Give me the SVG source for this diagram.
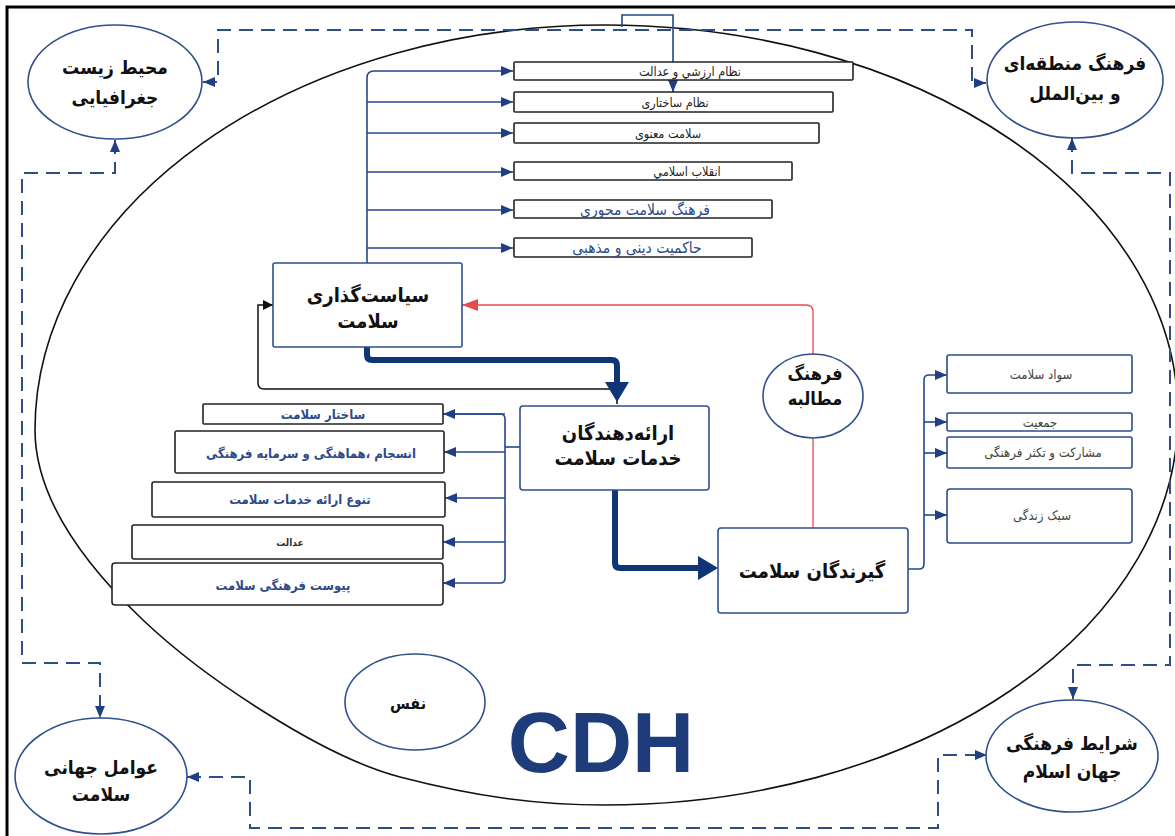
<svg xmlns="http://www.w3.org/2000/svg" width="1175" height="836" viewBox="0 0 1175 836">
<defs>
<style>
.bx{fill:#fff;stroke:#222;stroke-width:1.6}
.nb{fill:#fff;stroke:#2f4f8f;stroke-width:1.6}
.rb{fill:#fff;stroke:#2c4c8c;stroke-width:1.6}
.el{fill:#fff;stroke:#2f4f8f;stroke-width:1.6}
.cn{fill:none;stroke:#24478f;stroke-width:1.6}
.ds{fill:none;stroke:#2e4f86;stroke-width:2;stroke-dasharray:14 8}
.tk{fill:none;stroke:#0f3576;stroke-width:6;stroke-linecap:round;stroke-linejoin:round}
.t{font-family:"DejaVu Sans Condensed","DejaVu Sans",sans-serif;font-stretch:condensed;text-anchor:middle}
.big{font-size:20px;font-weight:bold;fill:#111}
.cor{font-size:19px;font-weight:bold;fill:#111}
.sm{font-size:12.5px;fill:#222}
.bl{font-size:13px;font-weight:bold;fill:#2d4a8a}
.bt{font-size:15.5px;fill:#2d4a8a}
.rt{font-size:13px;fill:#444}
</style>
<marker id="aB" viewBox="0 0 12 10" refX="12" refY="5" markerWidth="12" markerHeight="10" markerUnits="userSpaceOnUse" orient="auto"><path d="M0,0 L12,5 L0,10 z" fill="#1f3f82"/></marker>
<marker id="aD" viewBox="0 0 12 10" refX="12" refY="5" markerWidth="12" markerHeight="10" markerUnits="userSpaceOnUse" orient="auto-start-reverse"><path d="M0,0 L12,5 L0,10 z" fill="#1f3f82"/></marker>
<marker id="aK" viewBox="0 0 10 10" refX="10" refY="5" markerWidth="10" markerHeight="10" markerUnits="userSpaceOnUse" orient="auto"><path d="M0,0 L10,5 L0,10 z" fill="#111"/></marker>
<marker id="aR" viewBox="0 0 16 12" refX="16" refY="6" markerWidth="16" markerHeight="12" markerUnits="userSpaceOnUse" orient="auto"><path d="M0,0 L16,6 L0,12 z" fill="#e84a4a"/></marker>
<marker id="aT" viewBox="0 0 20 24" refX="6" refY="12" markerWidth="20" markerHeight="24" markerUnits="userSpaceOnUse" orient="auto"><path d="M0,0 L20,12 L0,24 z" fill="#0f3576"/></marker>
</defs>
<rect width="1175" height="836" fill="#fff"/>
<path d="M7,836 V7 H1175" fill="none" stroke="#000" stroke-width="3"/>

<g id="frame-ellipse">
<path d="M605,25 A573,390 0 0 1 605,805 C538,805 477,797 400,777 C323,757 204,678 143,620 C82,562 35,497 35,430 A570,405 0 0 1 605,25 Z" fill="none" stroke="#111" stroke-width="1.6"/>
</g>

<g id="connectors">
<path class="ds" d="M203,82 H218 V30 H972 V83 H986" marker-start="url(#aD)" marker-end="url(#aD)"/>
<path class="ds" d="M115,140 V173 H22 V663 H100 V718" marker-start="url(#aD)" marker-end="url(#aD)"/>
<path class="ds" d="M187,777 H250 V828 H938 V755 H987" marker-start="url(#aD)" marker-end="url(#aD)"/>
<path class="ds" d="M1072,138 V173 H1170 V665 H1073 V699" marker-start="url(#aD)" marker-end="url(#aD)"/>
<path class="cn" d="M622,27 V15 H673 V62"/>
<path class="cn" d="M673,80 V92" marker-end="url(#aB)"/>
<path class="cn" d="M367,263 V78 Q367,71 374,71 H513" marker-end="url(#aB)"/>
<path class="cn" d="M367,102 H513" marker-end="url(#aB)"/>
<path class="cn" d="M367,133 H513" marker-end="url(#aB)"/>
<path class="cn" d="M367,172 H513" marker-end="url(#aB)"/>
<path class="cn" d="M367,210 H513" marker-end="url(#aB)"/>
<path class="cn" d="M367,248 H513" marker-end="url(#aB)"/>
<path d="M617,404 V389 H264 Q258,389 258,383 V305 H273" fill="none" stroke="#111" stroke-width="1.5" marker-end="url(#aK)"/>
<path class="tk" d="M367,347 V355 Q367,360 372,360 H612 Q617,360 617,366 V388" marker-end="url(#aT)"/>
<path class="tk" d="M615,490 V563 Q615,568 620,568 H704" marker-end="url(#aT)"/>
<path d="M813,528 V437" fill="none" stroke="#e84a4a" stroke-width="1.3"/>
<path d="M813,355 V312 Q813,305 806,305 H462" fill="none" stroke="#e84a4a" stroke-width="1.3" marker-end="url(#aR)"/>
<path class="cn" d="M520,447 H505"/>
<path class="cn" d="M443,414 H500 Q505,414 505,419 V578 Q505,583 500,583 H443" marker-end="url(#aB)"/>
<path class="cn" d="M505,414 H443" marker-end="url(#aB)"/>
<path class="cn" d="M505,452 H444" marker-end="url(#aB)"/>
<path class="cn" d="M505,498 H445" marker-end="url(#aB)"/>
<path class="cn" d="M505,542 H443" marker-end="url(#aB)"/>
<path class="cn" d="M908,569 H919 Q924,569 924,564 V380 Q924,375 929,375 H947" marker-end="url(#aB)"/>
<path class="cn" d="M924,422 H947" marker-end="url(#aB)"/>
<path class="cn" d="M924,453 H947" marker-end="url(#aB)"/>
<path class="cn" d="M924,515 H947" marker-end="url(#aB)"/>
</g>

<g id="n-env"><ellipse class="el" cx="115" cy="82" rx="87" ry="57"/>
<text class="t cor" x="115" y="74">محیط زیست</text><text class="t cor" x="115" y="104">جغرافیایی</text></g>
<g id="n-regional"><ellipse class="el" cx="1075" cy="80" rx="88" ry="58"/>
<text class="t cor" x="1075" y="70">فرهنگ منطقه‌ای</text><text class="t cor" x="1075" y="100">و بین‌الملل</text></g>
<g id="n-global"><ellipse class="el" cx="101" cy="776" rx="86" ry="58"/>
<text class="t cor" x="101" y="774">عوامل جهانی</text><text class="t cor" x="101" y="801">سلامت</text></g>
<g id="n-islam"><ellipse class="el" cx="1072" cy="756" rx="86" ry="56"/>
<text class="t cor" x="1072" y="750">شرایط فرهنگی</text><text class="t cor" x="1072" y="778">جهان اسلام</text></g>
<g id="n-nafs"><ellipse class="el" cx="415" cy="702" rx="70" ry="48"/>
<text class="t" x="408" y="709" font-size="16" font-weight="bold" fill="#111">نفس</text></g>
<g id="n-cdh"><text x="601" y="772" text-anchor="middle" font-family="Liberation Sans, Arial, sans-serif" font-weight="bold" font-size="86" fill="#1f3c7a">CDH</text></g>
<g id="n-demand"><ellipse class="el" cx="813" cy="396" rx="50" ry="42"/>
<text class="t" x="815" y="380" font-size="18" font-weight="bold" fill="#111">فرهنگ</text><text class="t" x="815" y="405" font-size="18" font-weight="bold" fill="#111">مطالبه</text></g>

<g id="n-policy"><rect class="nb" x="273" y="263" width="189" height="84" rx="2"/>
<text class="t big" x="368" y="302">سیاست‌گذاری</text><text class="t big" x="368" y="328">سلامت</text></g>
<g id="n-providers"><rect class="nb" x="520" y="406" width="189" height="84" rx="3"/>
<text class="t big" x="618" y="440">ارائه‌دهندگان</text><text class="t big" x="618" y="465">خدمات سلامت</text></g>
<g id="n-receivers"><rect class="nb" x="718" y="528" width="190" height="85" rx="3"/>
<text class="t big" x="812" y="578">گیرندگان سلامت</text></g>

<g id="n-t1"><rect class="bx" x="514" y="62" width="339" height="18" rx="1"/><text class="t sm" x="690" y="76">نظام ارزشي و عدالت</text></g>
<g id="n-t2"><rect class="bx" x="514" y="92" width="319" height="20" rx="1"/><text class="t sm" x="675" y="107">نظام ساختاری</text></g>
<g id="n-t3"><rect class="bx" x="514" y="123" width="305" height="20" rx="1"/><text class="t sm" x="668" y="138">سلامت معنوی</text></g>
<g id="n-t4"><rect class="bx" x="514" y="162" width="278" height="18" rx="1"/><text class="t sm" x="687" y="176">انقلاب اسلامي</text></g>
<g id="n-t5"><rect class="bx" x="514" y="200" width="258" height="18" rx="1"/><text class="t bt" x="645" y="215">فرهنگ سلامت محوری</text></g>
<g id="n-t6"><rect class="bx" x="514" y="238" width="238" height="19" rx="1"/><text class="t bt" x="637" y="253">حاکمیت دینی و مذهبی</text></g>

<g id="n-l1"><rect class="bx" x="203" y="404" width="240" height="20" rx="1"/><text class="t bl" x="323" y="419">ساختار سلامت</text></g>
<g id="n-l2"><rect class="bx" x="175" y="431" width="269" height="42" rx="2"/><text class="t bl" x="311" y="458">انسجام ،هماهنگی و سرمایه فرهنگی</text></g>
<g id="n-l3"><rect class="bx" x="152" y="482" width="293" height="35" rx="2"/><text class="t bl" x="300" y="504">تنوع ارائه خدمات سلامت</text></g>
<g id="n-l4"><rect class="bx" x="132" y="525" width="311" height="34" rx="2"/><text class="t" x="290" y="546" font-size="10" font-weight="bold" fill="#333">عدالت</text></g>
<g id="n-l5"><rect class="bx" x="112" y="563" width="331" height="42" rx="3"/><text class="t bl" x="283" y="590">پیوست فرهنگی  سلامت</text></g>

<g id="n-r1"><rect class="rb" x="947" y="355" width="185" height="38" rx="2"/><text class="t rt" x="1041" y="379">سواد سلامت</text></g>
<g id="n-r2"><rect class="rb" x="947" y="413" width="185" height="18" rx="2"/><text class="t rt" x="1040" y="427">جمعیت</text></g>
<g id="n-r3"><rect class="rb" x="947" y="437" width="185" height="31" rx="2"/><text class="t rt" x="1043" y="457">مشارکت و تکثر فرهنگی</text></g>
<g id="n-r4"><rect class="rb" x="947" y="489" width="185" height="54" rx="3"/><text class="t rt" x="1042" y="520">سبک زندگی</text></g>
</svg>
